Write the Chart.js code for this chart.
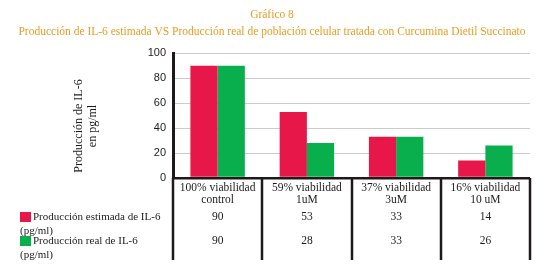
<!DOCTYPE html>
<html>
<head>
<meta charset="utf-8">
<script src="https://cdn.jsdelivr.net/npm/chart.js@4.4.1/dist/chart.umd.min.js"></script>
<style>
  html, body { margin: 0; padding: 0; background: #fff; }
  #wrap { width: 544px; height: 269px; }
</style>
</head>
<body>
<div id="wrap"><canvas id="il6Chart"></canvas></div>
<script>
// Data
const categories = [
    ['100% viabilidad', 'control'],
    ['59% viabilidad', '1uM'],
    ['37% viabilidad', '3uM'],
    ['16% viabilidad', '10 uM']
];
const estimada = [90, 53, 33, 14];
const real = [90, 28, 33, 26];
const seriesNames = [
    ['Producción estimada de IL-6', '(pg/ml)'],
    ['Producción real de IL-6', '(pg/ml)']
];
const yTitle = ['Producción de IL-6', 'en pg/ml'];
const yMax = 100;
const yStep = 20;

const serif = '"Liberation Serif", "DejaVu Serif", serif';
const ink = '#1e1a1b';
const red = '#e8174a';
const green = '#0aaf4d';

// draws the data table, legend and y title around the plot
const tablePlugin = {
    id: 'dataTable',
    afterDraw(chart) {
        const { ctx, chartArea } = chart;
        const x = chart.scales.x;
        const n = categories.length;
        const half = (x.getPixelForValue(1) - x.getPixelForValue(0)) / 2;
        const top = chartArea.bottom;
        const bottom = 260;

        ctx.save();
        ctx.strokeStyle = ink;
        ctx.lineWidth = 2.5;
        for (let i = 0; i <= n; i++) {
            const px = i < n ? x.getPixelForValue(i) - half : x.getPixelForValue(n - 1) + half;
            ctx.beginPath();
            ctx.moveTo(Math.round(px), top);
            ctx.lineTo(Math.round(px), bottom);
            ctx.stroke();
        }

        ctx.fillStyle = ink;
        ctx.font = '11.5px ' + serif;
        ctx.textAlign = 'center';
        ctx.textBaseline = 'middle';
        categories.forEach((lines, i) => {
            const cx = x.getPixelForValue(i);
            ctx.fillText(lines[0], cx, top + 10);
            ctx.fillText(lines[1], cx, top + 22);
            ctx.fillText(String(estimada[i]), cx, top + 39);
            ctx.fillText(String(real[i]), cx, top + 63);
        });

        // legend rows
        const rows = [top + 39, top + 63];
        const colors = [red, green];
        ctx.font = '11px ' + serif;
        ctx.textAlign = 'left';
        rows.forEach((ry, k) => {
            ctx.fillStyle = colors[k];
            ctx.fillRect(20, ry - 5, 11, 10);
            ctx.fillStyle = ink;
            ctx.fillText(seriesNames[k][0], 33, ry);
            ctx.fillText(seriesNames[k][1], 20, ry + 14);
        });

        // rotated y axis title
        ctx.font = '12px ' + serif;
        ctx.textAlign = 'center';
        ctx.translate(79, 126);
        ctx.rotate(-Math.PI / 2);
        ctx.fillText(yTitle[0], 0, 0);
        ctx.fillText(yTitle[1], 0, 14);
        ctx.restore();
    }
};

const ctx = document.getElementById('il6Chart').getContext('2d');
const il6Chart = new Chart(ctx, {
    type: 'bar',
    data: {
        labels: categories,
        datasets: [{
            label: seriesNames[0].join(' '),
            data: estimada,
            backgroundColor: red
        }, {
            label: seriesNames[1].join(' '),
            data: real,
            backgroundColor: green
        }]
    },
    options: {
        responsive: true,
        maintainAspectRatio: false,
        animation: false,
        datasets: {
            bar: { categoryPercentage: 0.61, barPercentage: 1 }
        },
        layout: {
            padding: { left: 0, right: 0, top: 0, bottom: 91 }
        },
        plugins: {
            legend: { display: false },
            tooltip: { enabled: false },
            title: {
                display: true,
                text: ['Gráfico 8', 'Producción de IL-6 estimada VS Producción real de población celular tratada con Curcumina Dietil Succinato'],
                color: '#e89c23',
                font: { family: serif, size: 11.5, weight: 'normal', lineHeight: 1.45 },
                padding: { top: 7, bottom: 13 }
            }
        },
        scales: {
            x: {
                display: false
            },
            y: {
                min: 0,
                max: yMax,
                afterFit(scale) { scale.width = 173; },
                ticks: {
                    stepSize: yStep,
                    padding: 7,
                    color: ink,
                    font: { family: '"Liberation Sans", Arial, sans-serif', size: 11 }
                },
                grid: {
                    drawTicks: false,
                    color: c => c.tick && c.tick.value === 0 ? ink : '#cccccc',
                    lineWidth: c => c.tick && c.tick.value === 0 ? 2.5 : 1
                },
                border: { color: ink, width: 3 }
            },
            // empty right margin so the title stays centred on the page
            yRight: {
                position: 'right',
                afterFit(scale) { scale.width = 14; },
                ticks: { display: false },
                grid: { display: false },
                border: { display: false }
            }
        }
    },
    plugins: [tablePlugin]
});
</script>
</body>
</html>
